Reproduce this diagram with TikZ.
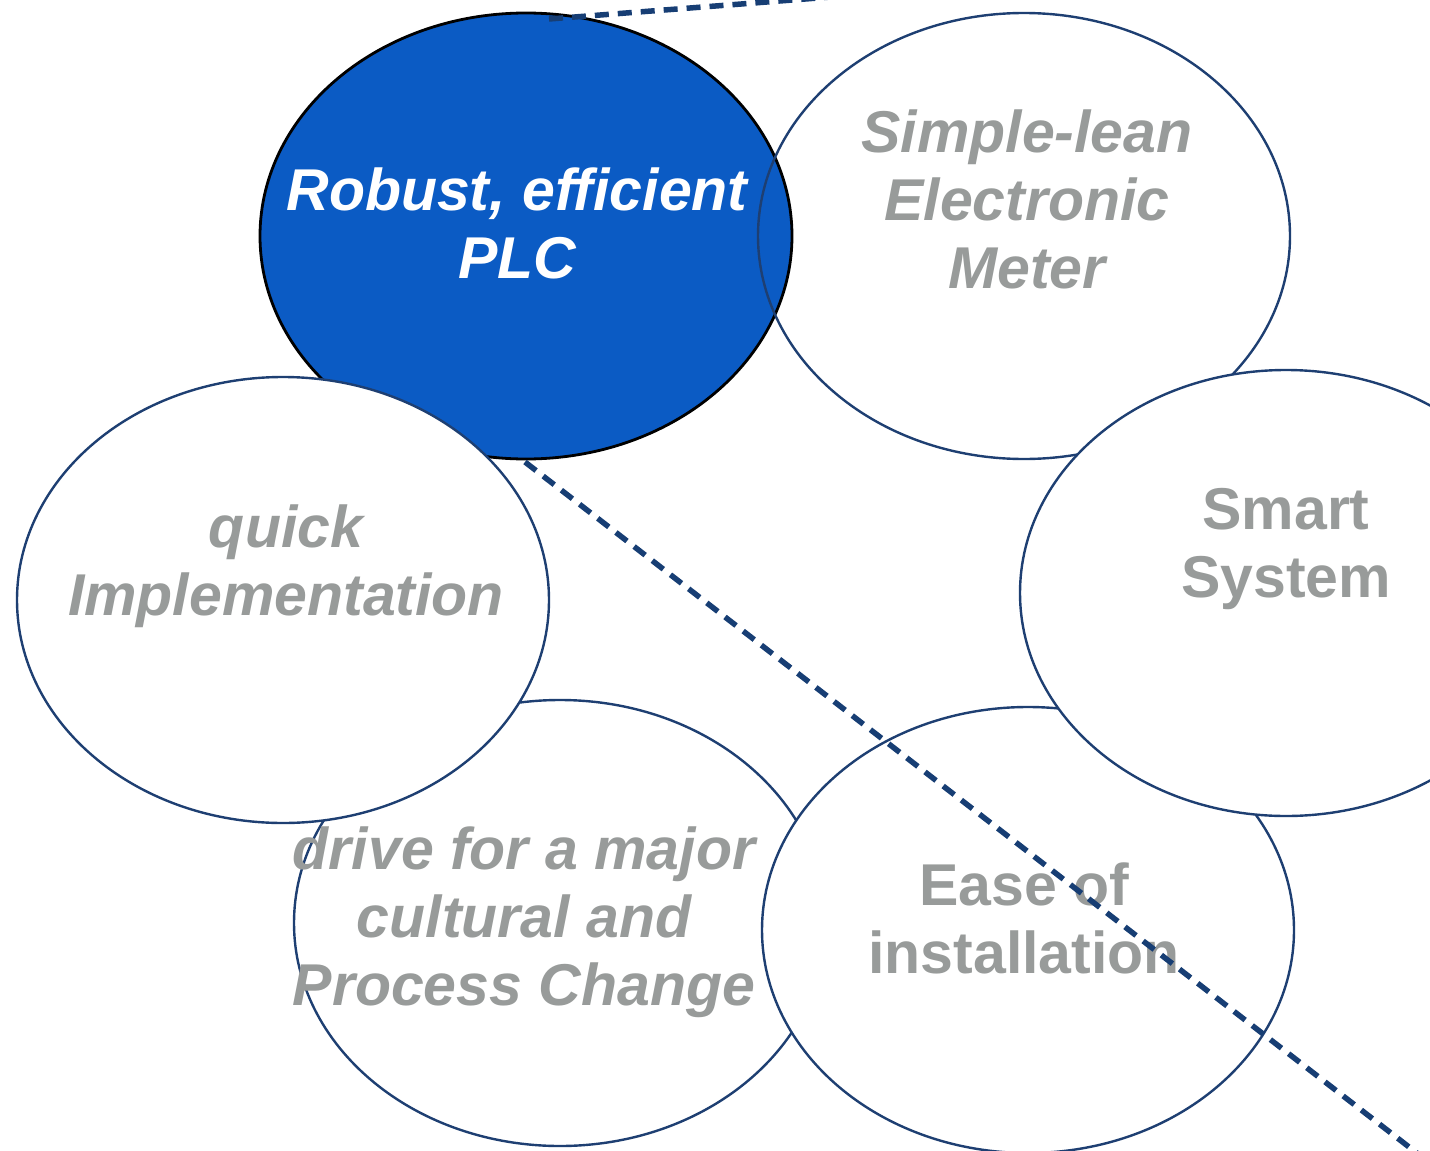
\documentclass[tikz,border=0pt]{standalone}
\usepackage{fontspec}
\setmainfont{Liberation Sans}
\usetikzlibrary{shapes.geometric}
\definecolor{plcblue}{HTML}{0B5BC4}
\definecolor{navy}{HTML}{1E3F72}
\definecolor{dashnavy}{HTML}{173E74}
\definecolor{txtgray}{HTML}{989B9A}
\tikzset{
  oval/.style={ellipse, minimum width=532pt, minimum height=446pt, inner sep=0pt, draw=navy, line width=2.4pt},
  whiteoval/.style={oval, fill=white},
  blueoval/.style={oval, fill=plcblue, draw=black, line width=2.8pt},
  outlineoval/.style={oval, draw=navy},
  lbl/.style={align=center, anchor=base, inner sep=0pt, text=txtgray, font=\fontsize{59}{68}\selectfont\bfseries\itshape},
  lblup/.style={lbl, font=\fontsize{59}{68}\selectfont\bfseries},
  lblwhite/.style={lbl, text=white},
  callout/.style={draw=dashnavy, line width=5.5pt, dash pattern=on 14pt off 9pt}
}
\begin{document}
\begin{tikzpicture}[x=1pt, y=-1pt]
\useasboundingbox (0,0) rectangle (1430,1151);
\clip (0,0) rectangle (1430,1151);
% ellipses, back to front
\node[whiteoval] (drive) at (560,923) {};
\node[whiteoval] (ease) at (1028,930) {};
\node[blueoval] (plc) at (526,236) {};
\node[outlineoval] (meter) at (1024,236) {};
\node[whiteoval] (smart) at (1286,593) {};
\node[whiteoval] (quick) at (283,600) {};
% texts (anchored at the baseline of the last line)
\node[lblwhite] (tplc) at (517,278) {Robust, efficient\\PLC};
\node[lbl] (tmeter) at (1027,288) {Simple-lean\\Electronic\\Meter};
\node[lblup] (tsmart) at (1286,597) {Smart\\System};
\node[lbl] (tquick) at (286,615) {quick\\Implementation};
\node[lbl] (tdrive) at (524,1005) {drive for a major\\cultural and\\Process Change};
\node[lblup] (tease) at (1024,973) {Ease of\\installation};
% callout lines
\coordinate (t1) at (549,19);
\coordinate (t2) at (900,-8.4);
\coordinate (b1) at (525,462);
\coordinate (b2) at (1440,1171);
\draw[callout] (t1) -- (t2);
\draw[callout] (b1) -- (b2);
\end{tikzpicture}
\end{document}
